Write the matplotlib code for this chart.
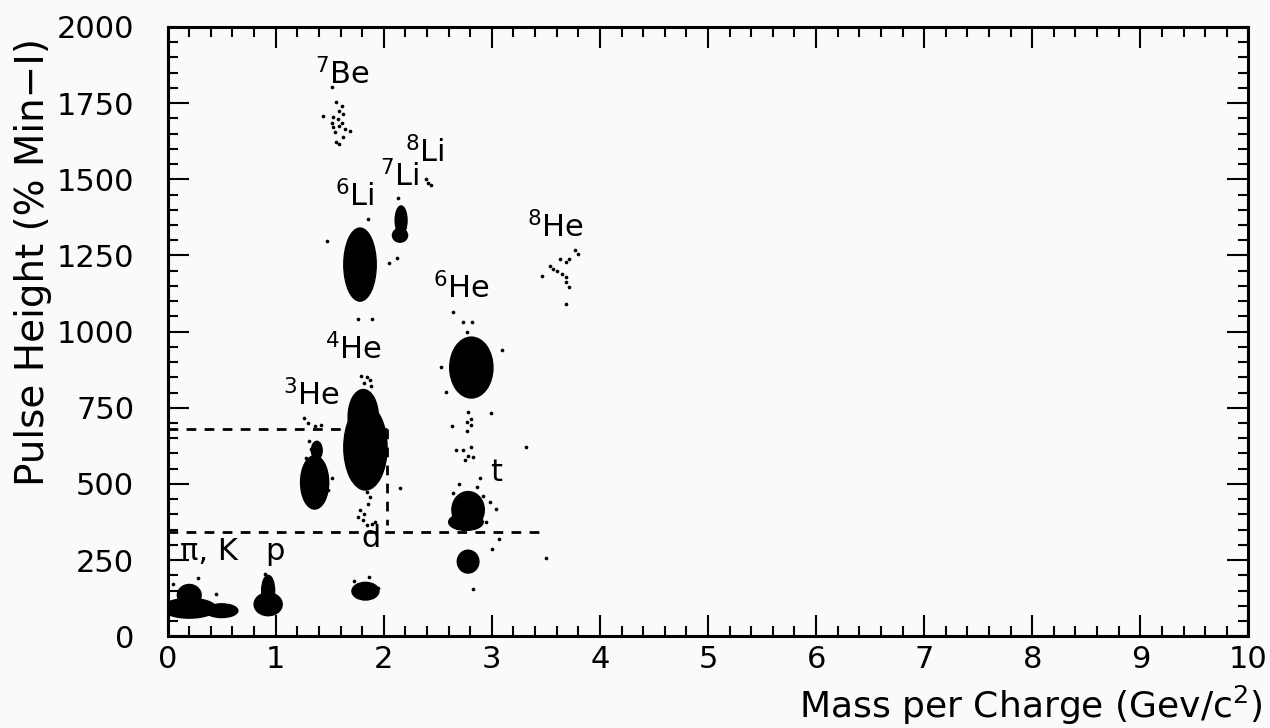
import matplotlib
matplotlib.use('Agg')
import matplotlib.pyplot as plt
from matplotlib.patches import Ellipse
from matplotlib.ticker import MultipleLocator

# dense clusters: centre (GeV/c^2, pulse height) and full width / height
blob_x = [0.20, 0.50, 0.20, 0.93, 0.93, 1.83, 1.36, 1.38, 1.83, 1.81, 1.78, 2.15, 2.16, 2.81, 2.78, 2.76, 2.78]
blob_y = [92, 84, 135, 105, 150, 148, 505, 610, 620, 720, 1220, 1316, 1365, 882, 415, 375, 245]
blob_w = [0.50, 0.30, 0.22, 0.26, 0.12, 0.25, 0.26, 0.10, 0.40, 0.28, 0.30, 0.14, 0.11, 0.40, 0.30, 0.32, 0.20]
blob_h = [65, 45, 70, 75, 100, 58, 175, 60, 280, 180, 240, 45, 95, 200, 120, 55, 75]

# sparse events
be7_x = [1.52, 1.56, 1.61, 1.59, 1.44, 1.53, 1.62, 1.58, 1.52, 1.61, 1.53, 1.59, 1.64, 1.69, 1.55, 1.56, 1.59, 1.62]
be7_y = [1803, 1752, 1741, 1725, 1708, 1703, 1714, 1697, 1686, 1686, 1670, 1675, 1664, 1659, 1654, 1621, 1616, 1638]
li8_x = [2.41, 2.44, 2.39]
li8_y = [1489, 1480, 1500]
he8_x = [3.77, 3.80, 3.71, 3.63, 3.69, 3.54, 3.57, 3.60, 3.65, 3.69, 3.46, 3.69, 3.71, 3.69]
he8_y = [1268, 1255, 1238, 1238, 1228, 1216, 1206, 1198, 1189, 1178, 1184, 1162, 1146, 1091]
mid_x = [2.78, 2.81, 2.77, 2.63, 2.81, 2.77, 2.99, 2.67, 2.73, 2.81, 2.78, 2.75, 2.83, 3.32, 3.50, 2.83,
         2.89, 3.04, 3.07, 3.00, 2.95, 2.70, 2.86, 2.92, 2.64, 2.98]
mid_y = [735, 713, 703, 689, 692, 675, 732, 610, 610, 621, 593, 577, 588, 621, 258, 156,
         518, 418, 320, 288, 375, 500, 490, 460, 470, 440]
tail_x = [1.84, 1.87, 1.85, 1.78, 1.82, 1.76, 1.81, 1.89, 1.84, 1.92, 2.15,
          1.79, 1.84, 1.87, 1.82, 1.88]
tail_y = [473, 457, 435, 413, 402, 391, 380, 369, 364, 375, 486,
          855, 850, 840, 830, 820]
halo_x = [1.26, 1.30, 1.36, 1.42, 1.31, 1.33, 1.35, 1.28, 1.52, 1.48,
          1.85, 1.47, 1.76, 1.89, 2.12, 2.05, 2.13,
          2.64, 2.73, 2.82, 2.77, 3.09, 2.53, 2.58,
          0.28, 0.45, 0.05, 0.90, 0.95, 1.72, 1.86, 1.95]
halo_y = [715, 700, 690, 695, 640, 615, 600, 585, 520, 480,
          1370, 1298, 1043, 1043, 1243, 1225, 1439,
          1063, 1030, 1030, 1000, 938, 883, 801,
          190, 140, 170, 205, 190, 180, 195, 160]

# dashed selection lines
dash_hx = [[0, 2.03], [0, 3.44]]
dash_hy = [[680, 680], [342, 342]]
dash_vx = [2.03, 2.03]
dash_vy = [680, 364]

labels = ['$^{7}$Be', '$^{6}$Li', '$^{7}$Li', '$^{8}$Li', '$^{8}$He', '$^{6}$He',
          '$^{4}$He', '$^{3}$He', '\u03c0, K', 'p', 'd', 't']
label_x = [1.62, 1.73, 2.15, 2.38, 3.59, 2.72, 1.72, 1.33, 0.38, 0.99, 1.88, 3.04]
label_y = [1846, 1446, 1511, 1590, 1344, 1141, 944, 793, 279, 279, 320, 537]

fig = plt.figure(figsize=(12.7, 7.28), dpi=100)
fig.patch.set_facecolor('#fafafa')
ax = fig.add_axes([0.132, 0.126, 0.851, 0.837])
ax.set_facecolor('#fafafa')

for x, y, w, h in zip(blob_x, blob_y, blob_w, blob_h):
    ax.add_patch(Ellipse((x, y), w, h, facecolor='black', edgecolor='black', lw=1))

for xs, ys in [(be7_x, be7_y), (li8_x, li8_y), (he8_x, he8_y), (mid_x, mid_y),
               (tail_x, tail_y), (halo_x, halo_y)]:
    ax.scatter(xs, ys, s=7, c='black', linewidths=0)

for xs, ys in zip(dash_hx, dash_hy):
    ax.plot(xs, ys, color='black', lw=2, dashes=(3.5, 3))
ax.plot(dash_vx, dash_vy, color='black', lw=2, dashes=(3.5, 3))

for t, x, y in zip(labels, label_x, label_y):
    ax.text(x, y, t, fontsize=22, ha='center', va='center')

ax.set_xlim(0, 10)
ax.set_ylim(0, 2000)
ax.xaxis.set_major_locator(MultipleLocator(1))
ax.xaxis.set_minor_locator(MultipleLocator(0.2))
ax.yaxis.set_major_locator(MultipleLocator(250))
ax.yaxis.set_minor_locator(MultipleLocator(50))
ax.tick_params(which='both', direction='in', top=True, right=True, width=1.5)
ax.tick_params(which='major', length=15, labelsize=22)
ax.tick_params(axis='x', which='major', pad=6)
ax.tick_params(axis='y', which='major', pad=24)
ax.tick_params(which='minor', length=7)
for s in ax.spines.values():
    s.set_linewidth(2.2)

fig.text(0.994, 0.014, 'Mass per Charge (Gev/c$^2$)', fontsize=26, ha='right', va='baseline')
fig.text(0.026, 0.64, 'Pulse Height (% Min\u2212I)', fontsize=28, rotation=90,
         ha='center', va='center')

plt.savefig('out.png', dpi=100, facecolor=fig.get_facecolor())
